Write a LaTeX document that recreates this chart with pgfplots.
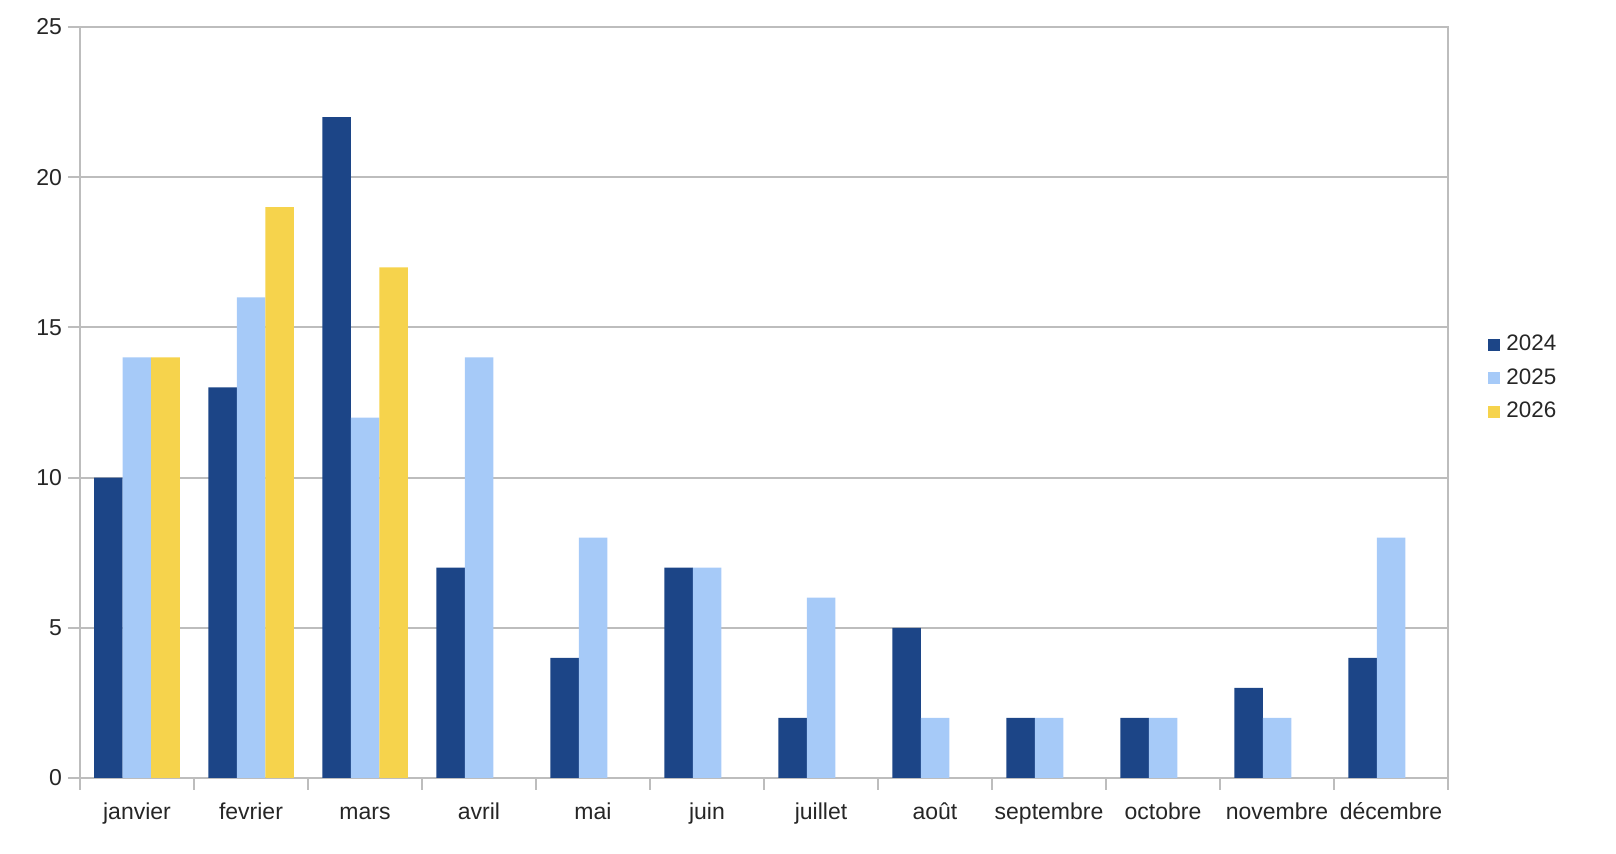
\documentclass[border=0pt]{standalone}
\usepackage{fontspec}
\setmainfont{Liberation Sans}
\usepackage{pgfplots}
\usepackage{pgfplotstable}
\pgfplotsset{compat=1.18}
\definecolor{c24}{HTML}{1C4587}
\definecolor{c25}{HTML}{A6CAF8}
\definecolor{c26}{HTML}{F6D34C}
\definecolor{gridc}{HTML}{BDBDBD}
\definecolor{txt}{HTML}{262626}
\pgfplotstableread{
x v24 v25
0 10 14
1 13 16
2 22 12
3 7 14
4 4 8
5 7 7
6 2 6
7 5 2
8 2 2
9 2 2
10 3 2
11 4 8
}\dataA
\pgfplotstableread{
x v26
0 14
1 19
2 17
}\dataB
\begin{document}
\begin{tikzpicture}
\useasboundingbox (-40pt,-38pt) rectangle (768pt,389pt);
\begin{axis}[
  at={(0pt,0pt)}, anchor=south west,
  scale only axis, width=684pt, height=375.5pt,
  ybar, bar width=0.25,
  xmin=-0.5, xmax=11.5, ymin=0, ymax=25,
  axis line style={gridc, line width=1pt},
  xtick={-0.5,0.5,...,11.5}, xticklabels={},
  extra x ticks={0,1,...,11},
  extra x tick labels={janvier,fevrier,mars,avril,mai,juin,juillet,août,septembre,octobre,novembre,décembre},
  extra x tick style={major tick length=0pt, xticklabel style={anchor=base, yshift=-21pt}},
  ytick={0,5,...,25},
  xtick pos=lower, ytick pos=left,
  tick align=outside, major tick length=6pt,
  tick style={gridc, line width=1pt},
  ymajorgrids, grid style={gridc, line width=1pt},
  /pgf/number format/assume math mode=true,
  ticklabel style={font=\fontsize{11.5pt}{13pt}\selectfont, text=txt},
  xticklabel style={inner sep=0pt},
  yticklabel style={inner sep=0pt, anchor=east, xshift=-2.8pt},
  legend style={at={(1,0.535)}, anchor=west, xshift=20pt, yshift=-1pt, draw=none, fill=none,
    inner sep=0pt, row sep=6.8pt, font=\fontsize{11.2pt}{12pt}\selectfont,
    nodes={inner sep=0pt, text height=8pt, text depth=2pt, text=txt},
    legend cell align=left},
  clip=false,
]
\addplot[fill=c24, draw=none, bar shift=-0.25, legend image code/.code={\fill[c24] (0pt,-3pt) rectangle (6pt,3pt); \path (9pt,0pt);}] table[x=x, y=v24] {\dataA};
\addplot[fill=c25, draw=none, bar shift=0, legend image code/.code={\fill[c25] (0pt,-3pt) rectangle (6pt,3pt); \path (9pt,0pt);}] table[x=x, y=v25] {\dataA};
\addplot[fill=c26, draw=none, bar shift=0.25, legend image code/.code={\fill[c26] (0pt,-3pt) rectangle (6pt,3pt); \path (9pt,0pt);}] table[x=x, y=v26] {\dataB};
\legend{2024,2025,2026}
\end{axis}
\end{tikzpicture}
\end{document}
